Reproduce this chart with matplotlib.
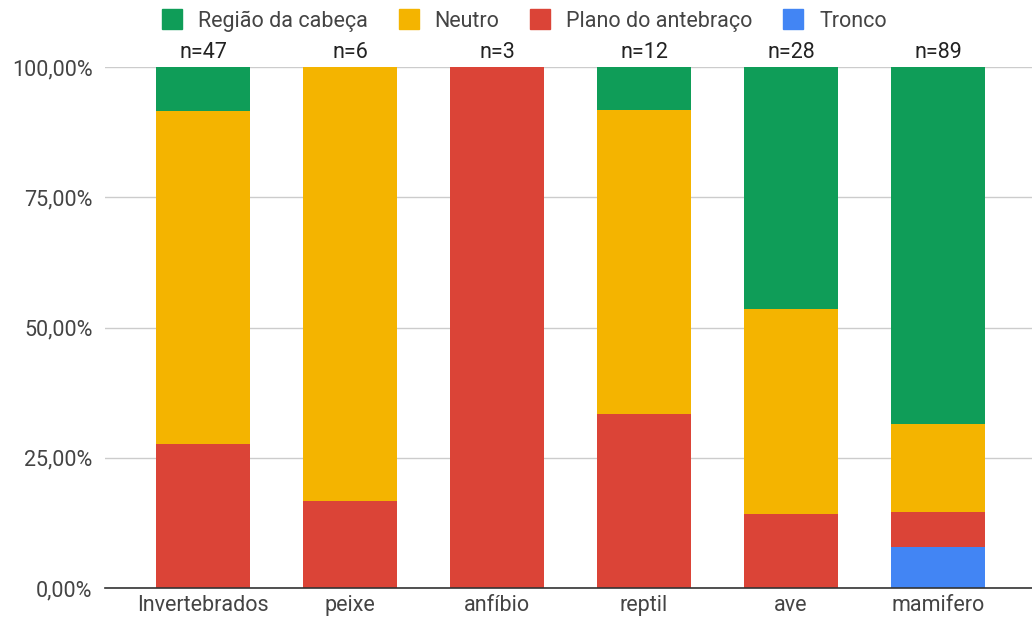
import matplotlib
matplotlib.use("Agg")
import matplotlib.pyplot as plt
from matplotlib.lines import Line2D
from matplotlib.ticker import FuncFormatter
import numpy as np

plt.rcParams['font.family'] = ['Roboto', 'DejaVu Sans']

categories = ["Invertebrados", "peixe", "anfíbio", "reptil", "ave", "mamifero"]
n_totals = [47, 6, 3, 12, 28, 89]
# counts per class
tronco = [0, 0, 0, 0, 0, 7]
plano = [13, 1, 3, 4, 4, 6]
neutro = [30, 5, 0, 7, 11, 15]
cabeca = [4, 0, 0, 1, 13, 61]

series = [
    ("Tronco", tronco, "#4285F4"),
    ("Plano do antebraço", plano, "#DB4437"),
    ("Neutro", neutro, "#F4B400"),
    ("Região da cabeça", cabeca, "#0F9D58"),
]

FS = 15.5

fig = plt.figure(figsize=(10.32, 6.21), dpi=100)
ax = fig.add_axes([105/1032, 33/621, 1 - 105/1032, (588-67)/621])

x = np.arange(len(categories))
bottom = np.zeros(len(categories))
tot = np.array(n_totals, dtype=float)
for name, vals, col in series:
    frac = np.array(vals) / tot
    ax.bar(x, frac, bottom=bottom, width=0.64, color=col, zorder=3, linewidth=0)
    bottom += frac

for i, n in enumerate(n_totals):
    ax.text(x[i], 1.008, f"n={n}", ha="center", va="bottom", fontsize=FS, color="#222222")

ax.set_ylim(0, 1)
ax.set_xlim(-0.667, 5.64)
ax.set_yticks([0, 0.25, 0.5, 0.75, 1.0])
ax.yaxis.set_major_formatter(FuncFormatter(lambda v, p: f"{v*100:.2f}%".replace(".", ",")))
ax.grid(axis="y", color="#cccccc", linewidth=1, zorder=0)
for s in ["top", "right", "left"]:
    ax.spines[s].set_visible(False)
ax.spines["bottom"].set_color("#333333")
ax.spines["bottom"].set_linewidth(1.2)
ax.spines["bottom"].set_zorder(4)
ax.tick_params(axis="both", length=0, labelsize=FS, labelcolor="#444444")
ax.tick_params(axis="y", pad=9)
ax.tick_params(axis="x", pad=5)
ax.set_xticks(x)
ax.set_xticklabels(categories)

legend_order = [3, 2, 1, 0]
handles = [Line2D([0], [0], marker="s", linestyle="", markersize=15,
                  markerfacecolor=series[i][2], markeredgecolor=series[i][2]) for i in legend_order]
labels = [series[i][0] for i in legend_order]
fig.legend(handles, labels, loc="center", bbox_to_anchor=(524/1032, 1 - 21/621), ncol=4,
           frameon=False, fontsize=FS, labelcolor="#444444", handletextpad=0.7,
           handlelength=1.0, columnspacing=1.4)

fig.savefig("out.png", dpi=100)
